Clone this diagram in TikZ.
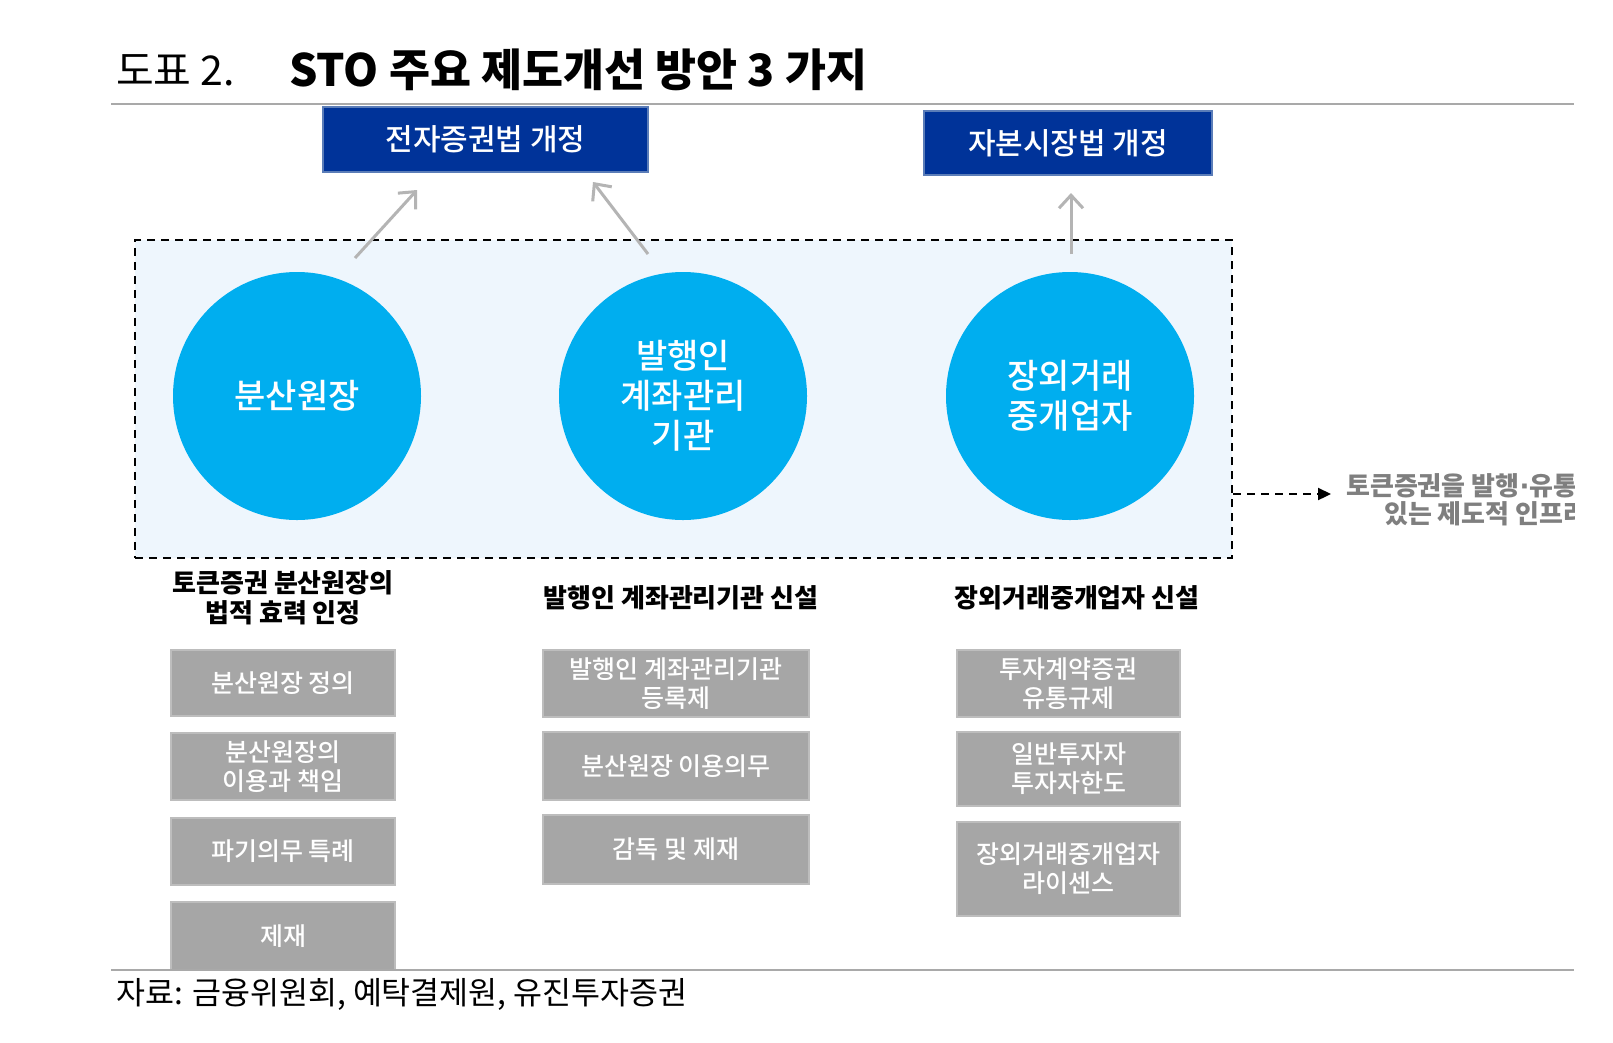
\documentclass[tikz,border=0pt]{standalone}
\usepackage{fontspec}
\setmainfont{Noto Sans CJK KR}
\newfontfamily\latinf{DejaVu Sans}
\IfFontExistsTF{Noto Sans CJK KR Medium}
  {\newfontfamily\medf{Noto Sans CJK KR Medium}}
  {\newcommand\medf{\bfseries}}
\usetikzlibrary{arrows.meta}
\definecolor{navy}{HTML}{003399}
\definecolor{navyedge}{HTML}{5B7DB8}
\definecolor{cyanc}{HTML}{00AEEF}
\definecolor{lightbg}{HTML}{EEF6FD}
\definecolor{boxgray}{HTML}{A6A6A6}
\definecolor{boxedge}{HTML}{BDBDBD}
\definecolor{rulegray}{HTML}{A9A9A9}
\definecolor{arrowgray}{HTML}{B4B4B4}
\definecolor{notegray}{HTML}{7F7F7F}
\begin{document}
\begin{tikzpicture}[x=1pt,y=-1pt,
  lawbox/.style={draw=navyedge, line width=2pt, fill=navy, text=white, inner sep=0pt,
    font=\fontsize{30}{34}\selectfont\medf},
  bubble/.style={circle, fill=cyanc, text=white, minimum size=248pt, inner sep=0pt, align=center,
    font=\fontsize{34}{40}\selectfont\medf},
  headtext/.style={align=center, inner sep=0pt, font=\fontsize{26}{30}\selectfont\bfseries},
  itembox/.style={draw=boxedge, line width=1.5pt, fill=boxgray, text=white, inner sep=0pt, align=center,
    font=\fontsize{25}{29}\selectfont\medf},
  upArrow/.style={draw=arrowgray, line width=3pt, -{Straight Barb[length=13pt,width=24pt]}},
  rulel/.style={draw=rulegray, line width=2pt},
  notetext/.style={anchor=west, inner sep=0pt, text=notegray, font=\fontsize{26}{28}\selectfont\bfseries}
]
\useasboundingbox (0,0) rectangle (1613,1042);
\fill[white] (0,0) rectangle (1613,1042);

% title
\node[anchor=west, inner sep=0pt, font=\fontsize{41}{48}\selectfont] (tnum) at (116,70) {도표 2.};
\node[anchor=west, inner sep=0pt, font=\fontsize{44.6}{48}\selectfont\bfseries] (title) at (289,70) {STO 주요 제도개선 방안 3 가지};
\coordinate (rtl) at (111,104);
\coordinate (rtr) at (1574,104);
\draw[rulel] (rtl) -- (rtr);

% law boxes
\node[lawbox, minimum width=325pt, minimum height=65pt] (law1) at (485.5,139.5) {전자증권법 개정};
\node[lawbox, minimum width=288pt, minimum height=64pt] (law2) at (1068,143) {자본시장법 개정};

% dashed frame
\node[draw=black, dash pattern=on 8pt off 6pt, line width=2pt, fill=lightbg,
  minimum width=1097pt, minimum height=318pt, inner sep=0pt] (frame) at (683.5,399) {};

% bubbles
\node[bubble] (c1) at (297,396) {분산원장};
\node[bubble] (c2) at (683,396) {발행인\\계좌관리\\기관};
\node[bubble] (c3) at (1070,396) {장외거래\\중개업자};

% up arrows
\coordinate (a1s) at (355,258);
\coordinate (a1e) at (417,190);
\coordinate (a2s) at (648,254);
\coordinate (a2e) at (593,182);
\coordinate (a3s) at (1071,254);
\coordinate (a3e) at (1071,193);
\draw[upArrow] (a1s) -- (a1e);
\draw[upArrow] (a2s) -- (a2e);
\draw[upArrow] (a3s) -- (a3e);

% dashed arrow to note
\coordinate (dend) at (1331,494);
\draw[black, line width=2.2pt, dash pattern=on 8pt off 6pt, -{Triangle[length=13pt,width=12pt]}]
  (frame.east |- dend) -- (dend);
\begin{scope}
  \clip (1300,440) rectangle (1574,540);
  \node[notetext] (note1) at (1346,486) {토큰증권을 발행{\latinf\bfseries ·}유통할};
  \node[notetext] (note2) at (1384,514) {있는 제도적 인프라};
\end{scope}

% headings
\node[headtext] (h1) at (283,598) {토큰증권 분산원장의\\법적 효력 인정};
\node[headtext] (h2) at (681,598) {발행인 계좌관리기관 신설};
\node[headtext] (h3) at (1077,598) {장외거래중개업자 신설};

% column 1
\node[itembox, minimum width=224pt, minimum height=66pt] (b11) at (283,683) {분산원장 정의};
\node[itembox, minimum width=224pt, minimum height=67pt] (b12) at (283,766.5) {분산원장의\\이용과 책임};
\node[itembox, minimum width=224pt, minimum height=67pt] (b13) at (283,851.5) {파기의무 특례};
\node[itembox, minimum width=224pt, minimum height=68pt] (b14) at (283,936) {제재};

% column 2
\node[itembox, minimum width=266pt, minimum height=67pt] (b21) at (676,683.5) {발행인 계좌관리기관\\등록제};
\node[itembox, minimum width=266pt, minimum height=68pt] (b22) at (676,766) {분산원장 이용의무};
\node[itembox, minimum width=266pt, minimum height=69pt] (b23) at (676,849.5) {감독 및 제재};

% column 3
\node[itembox, minimum width=223pt, minimum height=67pt] (b31) at (1068.5,683.5) {투자계약증권\\유통규제};
\node[itembox, minimum width=223pt, minimum height=74pt] (b32) at (1068.5,769) {일반투자자\\투자자한도};
\node[itembox, minimum width=223pt, minimum height=94pt] (b33) at (1068.5,869) {장외거래중개업자\\라이센스};

% bottom rule and source
\coordinate (rbl) at (111,970);
\coordinate (rbr) at (1574,970);
\draw[rulel] (rbl) -- (rbr);
\node[anchor=west, inner sep=0pt, font=\fontsize{31.5}{36}\selectfont] (src) at (116,994) {자료: 금융위원회, 예탁결제원, 유진투자증권};
\end{tikzpicture}
\end{document}
